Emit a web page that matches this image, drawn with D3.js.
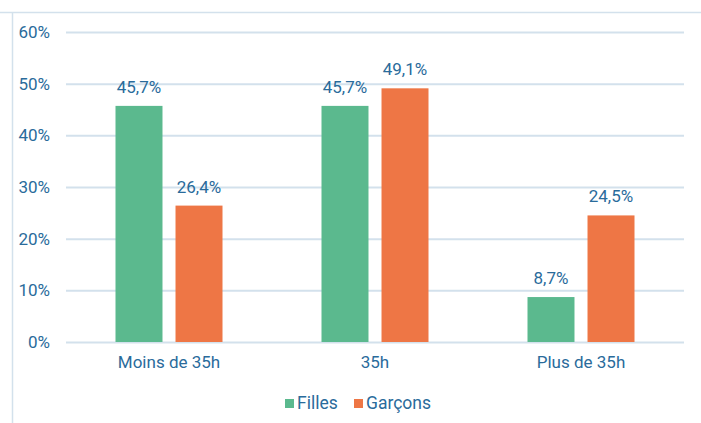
<!DOCTYPE html>
<html>
<head>
<meta charset="utf-8">
<script src="https://cdn.jsdelivr.net/npm/d3@7"></script>
<style>
  body { margin: 0; background: #fff; }
  text { font-family: Roboto, "Noto Sans", sans-serif; }
</style>
</head>
<body>
<svg width="701" height="423"></svg>
<script>
// Categories and series
const categories = ['Moins de 35h', '35h', 'Plus de 35h']
const seriesNames = ['Filles', 'Garçons']
const filles = [45.7, 45.7, 8.7]
const garcons = [26.4, 49.1, 24.5]
const yTicks = [0, 10, 20, 30, 40, 50, 60]

const colors = { Filles: '#5bb98e', Garçons: '#ee7645' }
const textColor = '#2a6b9b'
const gridColor = '#d3e1ec'

const svg = d3.select('svg')
const margin = { top: 32, right: 17, bottom: 81, left: 66 }
const width = 701 - margin.left - margin.right
const height = 423 - margin.top - margin.bottom

// frame lines round the chart area
svg.append('line').attr('x1', 0).attr('x2', 701).attr('y1', 12.5).attr('y2', 12.5)
  .attr('stroke', gridColor).attr('stroke-width', 1.5)
svg.append('line').attr('x1', 12.5).attr('x2', 12.5).attr('y1', 12).attr('y2', 423)
  .attr('stroke', gridColor).attr('stroke-width', 1.5)

const g = svg.append('g').attr('transform', `translate(${margin.left},${margin.top})`)

const x0 = d3.scaleBand().domain(categories).range([0, width])
const x1 = d3.scaleBand().domain(seriesNames)
  .range([x0.bandwidth() / 2 - 53.5, x0.bandwidth() / 2 + 53.5])
  .paddingInner(0.217)
const y = d3.scaleLinear().domain([0, 60]).range([height, 0])

// gridlines + y labels
const yAxis = g.append('g')
  .call(d3.axisLeft(y).tickValues(yTicks).tickSize(-width).tickPadding(16)
    .tickFormat((d) => d + '%'))
yAxis.select('.domain').remove()
yAxis.selectAll('.tick line').attr('stroke', gridColor).attr('stroke-width', 2)
yAxis.selectAll('.tick text').attr('fill', textColor).style('font-size', '17px')

// category labels
const xAxis = g.append('g').attr('transform', `translate(0,${height})`)
  .call(d3.axisBottom(x0).tickSize(0).tickPadding(14))
xAxis.select('.domain').remove()
xAxis.selectAll('.tick text').attr('fill', textColor).style('font-size', '17px')

const rows = categories.map((c, i) => ({
  category: c,
  values: [
    { name: 'Filles', value: filles[i] },
    { name: 'Garçons', value: garcons[i] },
  ],
}))

const groups = g.selectAll('.group')
  .data(rows)
  .enter()
  .append('g')
  .attr('transform', (d) => `translate(${x0(d.category)},0)`)

groups.selectAll('rect')
  .data((d) => d.values)
  .enter()
  .append('rect')
  .attr('x', (d) => x1(d.name))
  .attr('y', (d) => y(d.value))
  .attr('width', x1.bandwidth())
  .attr('height', (d) => height - y(d.value))
  .attr('fill', (d) => colors[d.name])

groups.selectAll('.label')
  .data((d) => d.values)
  .enter()
  .append('text')
  .attr('x', (d) => x1(d.name) + x1.bandwidth() / 2)
  .attr('y', (d) => y(d.value) - 13)
  .attr('text-anchor', 'middle')
  .attr('fill', textColor)
  .style('font-size', '17px')
  .text((d) => d.value.toFixed(1).replace('.', ',') + '%')

// legend
const legendItems = [
  { name: 'Filles', x: 285 },
  { name: 'Garçons', x: 354 },
]
const legend = svg.append('g')
legendItems.forEach((item) => {
  legend.append('rect').attr('x', item.x).attr('y', 399).attr('width', 9).attr('height', 9)
    .attr('fill', colors[item.name])
  legend.append('text').attr('x', item.x + 12).attr('y', 409)
    .attr('fill', textColor).style('font-size', '17.5px').text(item.name)
})
</script>
</body>
</html>
